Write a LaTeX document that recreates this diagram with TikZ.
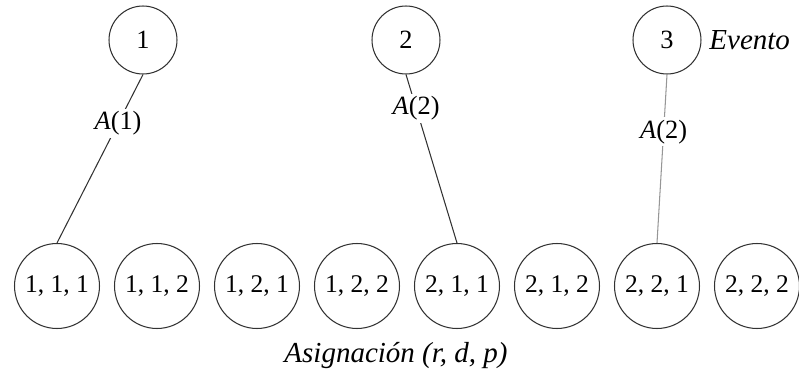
\documentclass[tikz,border=0pt]{standalone}
\usepackage{fontspec}
\setmainfont{Liberation Serif}
\usetikzlibrary{positioning}
\definecolor{linegray}{RGB}{50, 50, 50}
\definecolor{lightline}{RGB}{150, 150, 150}

\begin{document}
\begin{tikzpicture}[
  x=0.02cm, y=-0.02cm,
  every node/.style = {font=\fontsize{13}{15}\selectfont},
  evento/.style   = {draw=linegray, circle, minimum size=1.36cm, inner sep=0pt,
                    line width=0.6pt, font=\fontsize{15}{17}\selectfont},
  asig/.style     = {draw=linegray, circle, minimum size=1.7cm, inner sep=0pt,
                    line width=0.6pt, font=\fontsize{14.5}{16}\selectfont},
  link/.style     = {line width=0.6pt, linegray},
  label/.style    = {fill=white, text=black, inner sep=1.5pt,
                    font=\fontsize{15}{17}\selectfont}
]
\useasboundingbox (0,0) rectangle (799,376);

% Eventos
\node[evento] (e1) at (143,40) {1};
\node[evento] (e2) at (406,40) {2};
\node[evento] (e3) at (667,40) {3};
\node[right=1pt of e3, font=\fontsize{16.5}{18}\selectfont\itshape] (ev) {Evento};

% Asignaciones
\foreach \r/\d/\p [count=\i from 0] in {1/1/1, 1/1/2, 1/2/1, 1/2/2, 2/1/1, 2/1/2, 2/2/1, 2/2/2}
  \node[asig] (a\r\d\p) at (57+100*\i,286) {\r, \d, \p};
\node[font=\fontsize{16.5}{18}\selectfont\itshape] (asg) at (396,356) {Asignación (r, d, p)};

% Enlaces
\draw[link] (e1.south) -- node[label, pos=0.29]{\textit{A}(1)} (a111.north);
\draw[link] (e2.south) -- node[label, pos=0.2]{\textit{A}(2)} (a211.north);
\draw[link, lightline] (e3.south) -- node[label, pos=0.34]{\textit{A}(2)} (a221.north);

\end{tikzpicture}
\end{document}
